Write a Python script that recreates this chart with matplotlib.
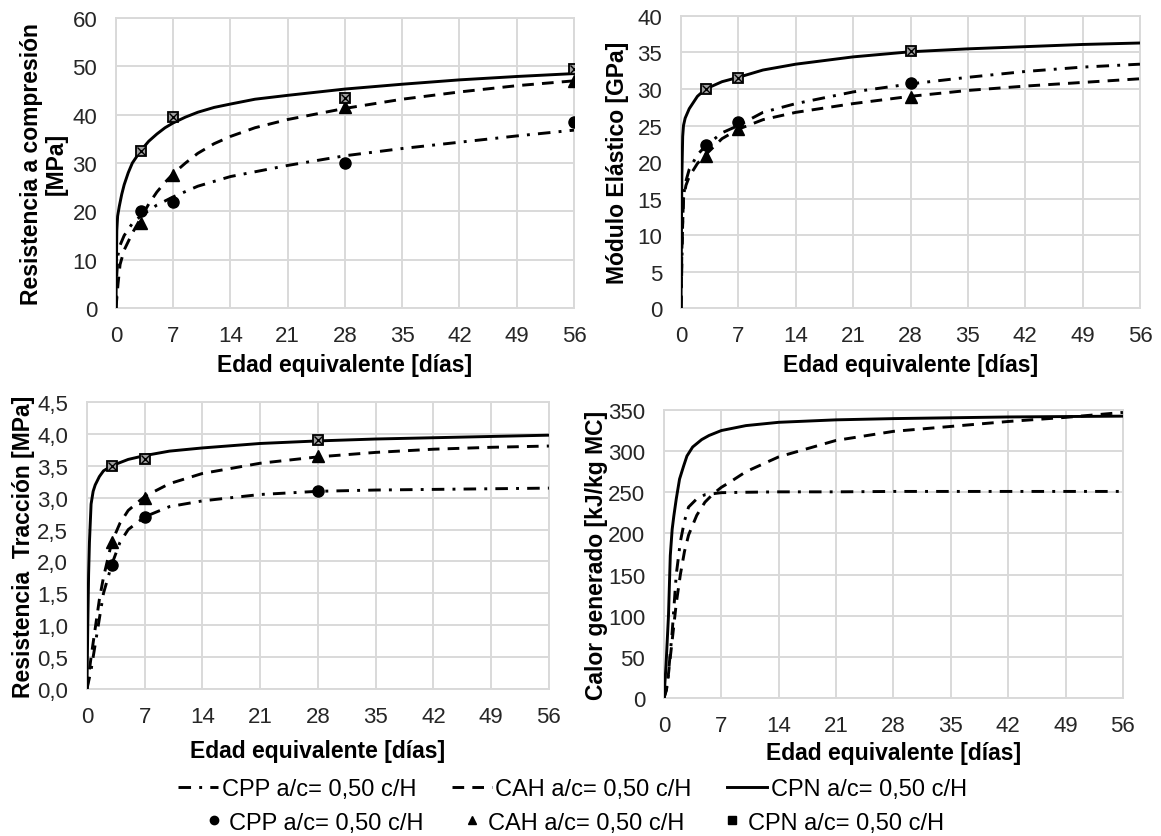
import matplotlib
matplotlib.use("Agg")
import matplotlib.pyplot as plt
from matplotlib.lines import Line2D

plt.rcParams['font.family'] = ['Liberation Sans', 'DejaVu Sans']

# ---------------- data ----------------
days_ticks = [0, 7, 14, 21, 28, 35, 42, 49, 56]
test_days = [3, 7, 28, 56]
test_days_e = [3, 7, 28]

# Compressive strength [MPa]
fc_cpp_pts = [20.0, 22.0, 30.0, 38.5]
fc_cah_pts = [17.5, 27.5, 41.5, 47.0]
fc_cpn_pts = [32.5, 39.5, 43.5, 49.5]

t_fc_cpn = [0, 0.05, 0.1, 0.2, 0.4, 0.7, 1, 1.5, 2, 3, 4, 5, 6, 7, 8.5, 10, 12, 14, 17, 21, 28, 35, 42, 49, 56]
fc_cpn = [0, 8, 16, 19, 21, 23.5, 25.5, 28, 30, 32.5, 34.5, 36, 37.3, 38.3, 39.5, 40.5, 41.5, 42.2, 43.2, 44, 45.3, 46.3, 47.2, 47.9, 48.5]
t_fc_cah = [0, 0.25, 0.5, 1, 2, 3, 4, 5, 6, 7, 8.5, 10, 12, 14, 17, 21, 28, 35, 42, 49, 56]
fc_cah = [0, 5, 9, 12, 15.5, 18.5, 21.5, 24, 26, 27.8, 30, 32, 34, 35.5, 37.3, 39, 41.3, 43.2, 44.7, 46, 47]
t_fc_cpp = [0, 0.1, 0.25, 0.5, 1, 2, 3, 5, 7, 10, 14, 21, 28, 35, 42, 49, 56]
fc_cpp = [0, 7, 11, 13, 15, 17.5, 19, 21.3, 23, 25.2, 27.2, 29.5, 31.5, 33, 34.3, 35.6, 36.8]

# Elastic modulus [GPa]
e_cpp_pts = [22.3, 25.5, 30.8]
e_cah_pts = [20.8, 24.5, 28.9]
e_cpn_pts = [30.0, 31.5, 35.2]

t_e_cpn = [0, 0.05, 0.1, 0.2, 0.3, 0.5, 1, 2, 3, 5, 7, 10, 14, 21, 28, 35, 42, 49, 56]
e_cpn = [0, 10, 18, 23.5, 25, 26, 27.3, 29, 30, 31, 31.6, 32.6, 33.4, 34.4, 35.1, 35.5, 35.8, 36.1, 36.3]
t_e_cah = [0, 0.1, 0.3, 0.6, 1, 2, 3, 5, 7, 10, 14, 21, 28, 35, 42, 49, 56]
e_cah = [0, 8, 15, 16.8, 18, 19.8, 21, 23.2, 24.5, 25.8, 26.8, 28, 29, 29.8, 30.4, 30.9, 31.4]
t_e_cpp = [0, 0.1, 0.2, 0.3, 0.5, 1, 2, 3, 5, 7, 10, 14, 21, 28, 35, 42, 49, 56]
e_cpp = [0, 6, 12, 15, 17, 19, 21, 22.2, 24, 25, 26.8, 28, 29.6, 30.7, 31.6, 32.4, 33, 33.4]

# Tensile strength [MPa]
ft_cpp_pts = [1.95, 2.7, 3.1]
ft_cah_pts = [2.3, 3.0, 3.65]
ft_cpn_pts = [3.5, 3.6, 3.9]

t_ft_cpn = [0, 0.1, 0.2, 0.3, 0.5, 0.75, 1, 1.5, 2, 3, 5, 7, 10, 14, 21, 28, 35, 42, 49, 56]
ft_cpn = [0, 1.0, 1.8, 2.3, 2.9, 3.1, 3.2, 3.33, 3.42, 3.5, 3.6, 3.66, 3.73, 3.78, 3.85, 3.89, 3.92, 3.94, 3.96, 3.98]
t_ft_cah = [0, 0.25, 0.5, 1, 1.5, 2, 3, 4, 5, 7, 10, 14, 21, 28, 35, 42, 49, 56]
ft_cah = [0, 0.25, 0.5, 0.95, 1.4, 1.75, 2.3, 2.6, 2.8, 3.02, 3.22, 3.38, 3.54, 3.64, 3.71, 3.76, 3.79, 3.81]
t_ft_cpp = [0, 0.5, 1, 1.5, 2, 3, 4, 5, 7, 10, 14, 21, 28, 35, 42, 49, 56]
ft_cpp = [0, 0.3, 0.7, 1.1, 1.5, 1.95, 2.3, 2.5, 2.7, 2.86, 2.95, 3.05, 3.1, 3.12, 3.13, 3.14, 3.15]

# Generated heat [kJ/kg MC]
t_q_cpn = [0, 0.25, 0.55, 0.77, 1, 1.2, 1.5, 1.9, 2.4, 2.8, 3.5, 4.6, 5.5, 7, 10, 14, 21, 28, 35, 42, 49, 56]
q_cpn = [0, 40, 100, 173, 205, 221, 242, 266, 282, 294, 305, 314, 319, 325, 331, 335, 338, 339.5, 340.5, 341.5, 342, 342.5]
t_q_cah = [0, 0.3, 0.5, 1, 1.5, 2, 2.5, 3, 4, 5, 6, 7, 8, 10, 14, 21, 28, 35, 42, 49, 56]
q_cah = [0, 10, 25, 70, 115, 150, 178, 198, 222, 238, 248, 256, 262, 275, 293, 313, 324, 330, 336, 341, 347]
t_q_cpp = [0, 0.3, 0.5, 1, 1.5, 2, 2.5, 3, 4, 5, 7, 10, 14, 21, 28, 42, 56]
q_cpp = [0, 10, 25, 80, 150, 190, 215, 232, 242, 247, 249.5, 250, 250.5, 250.5, 251, 251, 251]

legend_cpp = "CPP a/c= 0,50 c/H"
legend_cah = "CAH a/c= 0,50 c/H"
legend_cpn = "CPN a/c= 0,50 c/H"

# ---------------- styles ----------------
LW = 2.1
DASH = (0, (4.0, 2.8))
DASHDOT = (0, (4.3, 2.8, 1.0, 2.8))
GRID = '#d9d9d9'
TICK_FS = 16
LABEL_FS = 16.5
LEGEND_FS = 17

fig = plt.figure(figsize=(11.61, 8.37), dpi=100)


def style_axes(ax, ymax, ystep, fmt=None):
    ax.set_xlim(0, 56)
    ax.set_ylim(0, ymax)
    ax.set_xticks(days_ticks)
    n = int(round(ymax / ystep))
    yt = [i * ystep for i in range(n + 1)]
    ax.set_yticks(yt)
    if fmt is not None:
        ax.set_yticklabels([fmt(v) for v in yt])
    ax.grid(True, color=GRID, lw=1.4)
    ax.set_axisbelow(True)
    for s in ax.spines.values():
        s.set_color(GRID)
        s.set_linewidth(1.4)
    ax.tick_params(length=0, labelsize=TICK_FS, colors='#262626')
    ax.tick_params(axis='x', pad=12)
    ax.tick_params(axis='y', pad=13.5)


def draw_points(ax, x, cpp, cah, cpn):
    ax.plot(x, cpp, ls='none', marker='o', ms=8, mfc='black', mec='black', zorder=5)
    ax.plot(x, cah, ls='none', marker='^', ms=8, mfc='black', mec='black', zorder=5)
    ax.plot(x, cpn, ls='none', marker='s', ms=7.5, mfc='#a0a0a0', mec='black', mew=1.3, zorder=5)
    ax.plot(x, cpn, ls='none', marker='x', ms=5.5, mec='black', mew=1.0, zorder=6)


def draw_curves(ax, tcpp, ycpp, tcah, ycah, tcpn, ycpn):
    ax.plot(tcpp, ycpp, color='black', lw=LW, ls=DASHDOT, zorder=4)
    ax.plot(tcah, ycah, color='black', lw=LW, ls=DASH, zorder=4)
    ax.plot(tcpn, ycpn, color='black', lw=LW, ls='-', zorder=4)


xlabel = "Edad equivalente [días]"
lab = dict(fontsize=LABEL_FS, fontweight='bold')

# Compressive strength
ax1 = fig.add_axes([0.0999, 0.6308, 0.3945, 0.3465])
draw_curves(ax1, t_fc_cpp, fc_cpp, t_fc_cah, fc_cah, t_fc_cpn, fc_cpn)
draw_points(ax1, test_days, fc_cpp_pts, fc_cah_pts, fc_cpn_pts)
style_axes(ax1, 60, 10)
ax1.set_xlabel(xlabel, labelpad=5, **lab)
ax1.set_ylabel("Resistencia a compresión\n[MPa]", labelpad=3, linespacing=1.1, **lab)

# Elastic modulus
ax2 = fig.add_axes([0.5866, 0.6308, 0.3953, 0.3489])
draw_curves(ax2, t_e_cpp, e_cpp, t_e_cah, e_cah, t_e_cpn, e_cpn)
draw_points(ax2, test_days_e, e_cpp_pts, e_cah_pts, e_cpn_pts)
style_axes(ax2, 40, 5)
ax2.set_xlabel(xlabel, labelpad=5, **lab)
ax2.set_ylabel("Módulo Elástico [GPa]", labelpad=6, **lab)

# Tensile strength
ax3 = fig.add_axes([0.0749, 0.1756, 0.3979, 0.3429])
draw_curves(ax3, t_ft_cpp, ft_cpp, t_ft_cah, ft_cah, t_ft_cpn, ft_cpn)
draw_points(ax3, test_days_e, ft_cpp_pts, ft_cah_pts, ft_cpn_pts)
style_axes(ax3, 4.5, 0.5, fmt=lambda v: f"{v:.1f}".replace('.', ','))
ax3.set_xlabel(xlabel, labelpad=9, **lab)
ax3.set_ylabel("Resistencia  Tracción [MPa]", labelpad=1.5, **lab)

# Generated heat
ax4 = fig.add_axes([0.5719, 0.1649, 0.3953, 0.3441])
draw_curves(ax4, t_q_cpp, q_cpp, t_q_cah, q_cah, t_q_cpn, q_cpn)
style_axes(ax4, 350, 50)
ax4.set_xlabel(xlabel, labelpad=4, **lab)
ax4.set_ylabel("Calor generado [kJ/kg MC]", labelpad=0, **lab)

# Legends: fitted curves on the first row, test results on the second
line_handles = [
    Line2D([], [], color='black', lw=LW, ls=DASHDOT),
    Line2D([], [], color='black', lw=LW, ls=DASH),
    Line2D([], [], color='black', lw=LW, ls='-'),
]
mark_handles = [
    Line2D([], [], ls='none', marker='o', ms=6, color='black'),
    Line2D([], [], ls='none', marker='^', ms=6, color='black'),
    Line2D([], [], ls='none', marker='s', ms=6, color='black'),
]
labels = [legend_cpp, legend_cah, legend_cpn]
fig.legend(line_handles, labels, loc='center', bbox_to_anchor=(0.493, 0.056), ncol=3,
           frameon=False, fontsize=LEGEND_FS, handlelength=1.7, handletextpad=0.15,
           columnspacing=1.5, borderaxespad=0)
fig.legend(mark_handles, labels, loc='center', bbox_to_anchor=(0.495, 0.016), ncol=3,
           frameon=False, fontsize=LEGEND_FS, handlelength=0.7, handletextpad=0.3,
           columnspacing=1.7, borderaxespad=0)

fig.savefig("out.png", dpi=100)
